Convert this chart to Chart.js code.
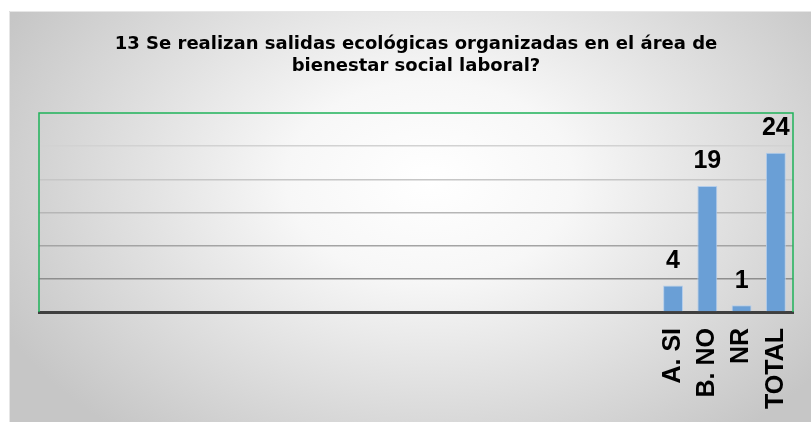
<!DOCTYPE html>
<html>
<head>
<meta charset="utf-8">
<script src="https://cdn.jsdelivr.net/npm/chart.js@4"></script>
<style>
  html, body { margin: 0; padding: 0; background: #ffffff; }
  #wrap { width: 811px; height: 422px; }
</style>
</head>
<body>
<div id="wrap"><canvas id="grafico" width="811" height="422"></canvas></div>
<script>
// Datos del gráfico (18 categorías vacías antes de las respuestas)
const categorias = ["", "", "", "", "", "", "", "", "", "", "", "", "", "", "", "", "", "",
    "A. SI", "B. NO", "NR", "TOTAL"];
const valores = [null, null, null, null, null, null, null, null, null, null, null, null, null, null, null, null, null, null,
    4, 19, 1, 24];
const titulo = ["13 Se realizan salidas ecológicas organizadas en el área de", "bienestar social laboral?"];

const fuente = "'Liberation Sans', Arial, sans-serif";

// Fondo con degradado radial (marco del gráfico)
const fondo = {
    id: "fondo",
    beforeDraw(chart) {
        const ctx = chart.ctx;
        const x0 = 9, y0 = 11, w = chart.width - x0, h = chart.height - y0;
        const cx = 430, cy = 180;
        ctx.save();
        ctx.beginPath();
        ctx.rect(x0, y0, w, h);
        ctx.clip();
        ctx.translate(cx, cy);
        ctx.scale(1.45, 1);
        const g = ctx.createRadialGradient(0, 0, 0, 0, 0, 330);
        g.addColorStop(0, "#ffffff");
        g.addColorStop(0.3, "#f7f7f7");
        g.addColorStop(1, "#c6c6c6");
        ctx.fillStyle = g;
        ctx.fillRect(-cx / 1.45 - 10, -cy - 10, chart.width / 1.45 + 40, chart.height + 40);
        ctx.restore();
        ctx.save();
        ctx.strokeStyle = "#e6e6e6";
        ctx.lineWidth = 1;
        ctx.beginPath();
        ctx.moveTo(x0 + 0.5, chart.height);
        ctx.lineTo(x0 + 0.5, y0 + 0.5);
        ctx.lineTo(chart.width, y0 + 0.5);
        ctx.stroke();
        ctx.restore();
    }
};

// Borde verde del área de trazado
const bordeVerde = {
    id: "bordeVerde",
    beforeDatasetsDraw(chart) {
        const a = chart.chartArea;
        const ctx = chart.ctx;
        ctx.save();
        ctx.strokeStyle = "#1fb35a";
        ctx.lineWidth = 1.5;
        ctx.beginPath();
        ctx.moveTo(a.left, a.bottom);
        ctx.lineTo(a.left, a.top);
        ctx.lineTo(a.right, a.top);
        ctx.lineTo(a.right, a.bottom);
        ctx.stroke();
        ctx.restore();
    }
};

// Etiquetas de valor encima de las barras
const etiquetas = {
    id: "etiquetas",
    afterDatasetsDraw(chart) {
        const ctx = chart.ctx;
        const meta = chart.getDatasetMeta(0);
        ctx.save();
        ctx.fillStyle = "#000000";
        ctx.font = "bold 25px " + fuente;
        ctx.textAlign = "center";
        ctx.textBaseline = "bottom";
        meta.data.forEach((bar, i) => {
            const v = valores[i];
            if (v === null) return;
            ctx.fillText(String(v), bar.x, bar.y - 12);
        });
        ctx.restore();
    }
};

const coloresGrid = {5: "#8e8e8e", 10: "#a4a4a4", 15: "#b6b6b6", 20: "#c6c6c6", 25: "#d2d2d2", 30: "rgba(0,0,0,0)", 0: "rgba(0,0,0,0)"};

new Chart(document.getElementById("grafico").getContext("2d"), {
    type: "bar",
    data: {
        labels: categorias,
        datasets: [{
            data: valores,
            backgroundColor: "#6a9fd6",
            borderColor: "#b3cdeb",
            borderWidth: 1,
            barPercentage: 0.58,
            categoryPercentage: 1,
        }],
    },
    options: {
        responsive: false,
        animation: false,
        layout: {
            padding: { top: 33, left: 39, right: 18, bottom: 0 }
        },
        plugins: {
            legend: { display: false },
            tooltip: { enabled: false },
            title: {
                display: true,
                text: titulo,
                color: "#000000",
                font: { family: "'DejaVu Sans', Arial, sans-serif", size: 18, weight: "bold", lineHeight: 1.25 },
                padding: { top: 0, bottom: 35 },
            },
        },
        scales: {
            x: {
                grid: { display: false, drawTicks: false },
                border: { display: true, color: "#3f3f3f", width: 3 },
                ticks: {
                    autoSkip: false,
                    maxRotation: 90,
                    minRotation: 90,
                    padding: 16,
                    color: "#000000",
                    font: { family: fuente, size: 25, weight: "bold" },
                },
                afterFit(scale) {
                    scale.height = 110;
                    scale.paddingLeft = 0;
                    scale.paddingRight = 0;
                },
            },
            y: {
                min: 0,
                max: 30,
                ticks: { display: false, stepSize: 5 },
                border: { display: false },
                grid: {
                    drawTicks: false,
                    lineWidth: 1.5,
                    color: (c) => coloresGrid[c.tick.value] || "#c0c0c0",
                },
                afterFit(scale) { scale.width = 0; },
            },
        },
    },
    plugins: [fondo, bordeVerde, etiquetas],
});
</script>
</body>
</html>
